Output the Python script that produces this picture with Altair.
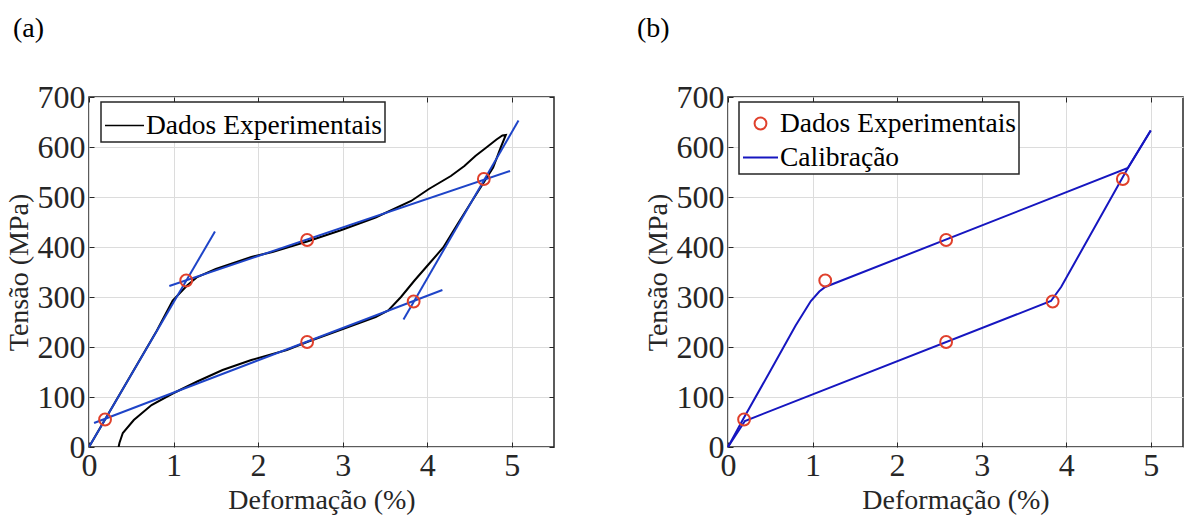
import altair as alt
import pandas as pd

FONT = "Liberation Serif"
INK = "#262626"
RED = "#e0402c"
BLUE_A = "#1e44c8"
BLUE_B = "#1616c0"

# (a) measured stress-strain loop: loading branch followed by unloading branch
exp_strain = [0.00, 0.20, 0.50, 0.80, 0.99, 1.16, 1.28, 1.50, 1.92, 2.17, 2.58, 2.97,
              3.39, 3.81, 4.02, 4.28, 4.44, 4.57, 4.70, 4.82, 4.89, 4.93,
              4.87, 4.78, 4.68, 4.53, 4.36, 4.19, 4.02, 3.85, 3.69, 3.54, 3.39, 3.18,
              2.97, 2.58, 2.34, 1.92, 1.58, 1.28, 0.99, 0.74, 0.53, 0.40, 0.36, 0.35]
exp_stress = [0, 58, 145, 232, 293, 323, 340, 356, 380, 390, 411, 433,
              459, 492, 516, 542, 562, 582, 599, 615, 623, 624,
              599, 559, 532, 492, 446, 399, 366, 333, 300, 273, 260, 247,
              234, 210, 194, 174, 154, 131, 107, 84, 54, 28, 8, 0]

# characteristic points picked on the loop
pts_strain = [0.19, 1.15, 2.58, 2.58, 3.84, 4.67]
pts_stress = [55, 333, 414, 210, 291, 536]

# tangent segments used to locate the characteristic points
tan_id = [1, 1, 2, 2, 3, 3, 4, 4]
tan_strain = [0.00, 1.49, 0.95, 4.98, 0.06, 4.18, 3.72, 5.08]
tan_stress = [0, 431, 322, 552, 48, 314, 255, 653]

# (b) calibrated model response
cal_load_strain = [0.00, 0.18, 0.50, 0.80, 0.98, 1.08, 1.15, 4.73, 5.00]
cal_load_stress = [0, 56, 152, 243, 292, 311, 320, 558, 633]
cal_unload_strain = [5.00, 4.73, 3.94, 3.82, 0.20, 0.00]
cal_unload_stress = [633, 558, 320, 292, 52, 0]

LBL_EXP = "Dados Experimentais"
LBL_CAL = "Calibração"

exp_df = pd.DataFrame({"e": exp_strain, "s": exp_stress,
                       "i": list(range(len(exp_strain))), "serie": LBL_EXP})
pts_df = pd.DataFrame({"e": pts_strain, "s": pts_stress, "serie": LBL_EXP})
tan_df = pd.DataFrame({"e": tan_strain, "s": tan_stress, "seg": tan_id})
load_df = pd.DataFrame({"e": cal_load_strain, "s": cal_load_stress,
                        "i": list(range(len(cal_load_strain)))})
unload_df = pd.DataFrame({"e": cal_unload_strain, "s": cal_unload_stress,
                          "i": list(range(len(cal_unload_strain)))})

W_A, W_B, H = 465, 455, 350
PX_PER_UNIT = W_A / 5.5
X_DOM_A = [0, 5.5]
X_DOM_B = [0, W_B / PX_PER_UNIT]   # same strain scale, frame runs to the page edge
Y_DOM = [0, 700]
X_TICKS = [0, 1, 2, 3, 4, 5]
Y_TICKS = list(range(0, 701, 100))


def xscale(dom):
    return alt.Scale(domain=dom, nice=False, zero=False)


def yscale():
    return alt.Scale(domain=Y_DOM, nice=False)


def main_x(dom):
    return alt.X("e:Q", scale=xscale(dom),
                 axis=alt.Axis(values=X_TICKS, title="Deformação (%)", grid=True,
                               ticks=False, domain=False, labelPadding=3,
                               titlePadding=5, labelOverlap=False, labelFlush=False,
                               labelFont=FONT, titleFont=FONT))


def main_y():
    return alt.Y("s:Q", scale=yscale(),
                 axis=alt.Axis(values=Y_TICKS, title="Tensão (MPa)", grid=True,
                               ticks=False, domain=False, labelPadding=4,
                               titlePadding=4, labelOverlap=False, labelFlush=False,
                               labelFont=FONT, titleFont=FONT))


def tick_axis(orient, vals):
    # short inward ticks along a border of the frame
    return alt.Axis(orient=orient, values=vals, labels=False, title=None, grid=False,
                    domain=False, ticks=True, tickSize=5, offset=-5,
                    tickColor=INK, tickWidth=1)


def tx(orient, dom):
    return alt.X("e:Q", scale=xscale(dom), axis=tick_axis(orient, X_TICKS))


def ty(orient):
    return alt.Y("s:Q", scale=yscale(), axis=tick_axis(orient, Y_TICKS))


def panel_title(txt, dx):
    return alt.TitleParams(txt, anchor="start", frame="bounds", font=FONT, fontSize=28,
                           fontWeight="normal", color="black", offset=38, dx=dx)


# ---------- panel (a) ----------
exp_line = alt.Chart(exp_df).mark_line(strokeWidth=2, clip=True).encode(
    x=main_x(X_DOM_A), y=main_y(), order="i:Q",
    color=alt.Color("serie:N",
                    scale=alt.Scale(domain=[LBL_EXP], range=["black"]),
                    legend=alt.Legend(title=None, orient="none", legendX=12, legendY=5,
                                      symbolType="stroke", symbolSize=1521,
                                      symbolStrokeWidth=1.5, labelFont=FONT,
                                      labelFontSize=27.5, labelColor="black",
                                      labelLimit=0, labelOffset=1, padding=3,
                                      strokeColor=INK, fillColor="white")))

tangents = alt.Chart(tan_df).mark_line(strokeWidth=2, color=BLUE_A, clip=True).encode(
    x=tx("top", X_DOM_A), y=ty("right"), detail="seg:N")

pts_a = alt.Chart(pts_df).mark_point(filled=False, size=140, strokeWidth=2,
                                     color=RED, opacity=1).encode(
    x=tx("bottom", X_DOM_A), y=ty("left"))

panel_a = alt.layer(exp_line, tangents, pts_a).properties(
    width=W_A, height=H, title=panel_title("(a)", 8)
).resolve_axis(x="independent", y="independent")

# ---------- panel (b) ----------
CIRCLE = "M-0.338,0A0.338,0.338,0,1,0,0.338,0A0.338,0.338,0,1,0,-0.338,0Z"
DASH = "M-1,0L1,0"

cal_load = alt.Chart(load_df).mark_line(strokeWidth=2, color=BLUE_B).encode(
    x=main_x(X_DOM_B), y=main_y(), order="i:Q")

cal_unload = alt.Chart(unload_df).mark_line(strokeWidth=2, color=BLUE_B).encode(
    x=tx("bottom", X_DOM_B), y=ty("left"), order="i:Q")

leg_b = alt.Legend(title=None, orient="none", legendX=11, legendY=5,
                   symbolSize=1225, symbolStrokeWidth=2, labelFont=FONT,
                   labelFontSize=27.5, labelColor="black", labelLimit=0, labelOffset=1,
                   padding=3, rowPadding=2, strokeColor=INK, fillColor="white")

pts_b = alt.Chart(pts_df).mark_point(filled=False, size=1225, strokeWidth=2,
                                     opacity=1).encode(
    x=tx("top", X_DOM_B),
    y=alt.Y("s:Q", scale=yscale(), axis=None),
    color=alt.Color("serie:N", scale=alt.Scale(domain=[LBL_EXP, LBL_CAL],
                                               range=[RED, BLUE_B]), legend=leg_b),
    shape=alt.Shape("serie:N", scale=alt.Scale(domain=[LBL_EXP, LBL_CAL],
                                               range=[CIRCLE, DASH]), legend=leg_b))

panel_b = alt.layer(cal_load, cal_unload, pts_b).properties(
    width=W_B, height=H, title=panel_title("(b)", -7)
).resolve_axis(x="independent", y="independent")

chart = alt.hconcat(panel_a, panel_b, spacing=80).resolve_scale(
    x="independent", y="independent", color="independent", shape="independent"
).properties(
    padding={"left": 4, "top": 14, "right": 0, "bottom": 0},
    background="white",
).configure(
    font=FONT
).configure_view(
    stroke=INK, strokeWidth=1.5
).configure_axis(
    labelFont=FONT, titleFont=FONT, labelFontSize=32, titleFontSize=28,
    labelColor=INK, titleColor=INK, titleFontWeight="normal",
    gridColor="#dcdcdc", gridWidth=1
).configure_legend(strokeWidth=1.5)

chart.save("out.html", embed_options={"renderer": "svg", "actions": False})
